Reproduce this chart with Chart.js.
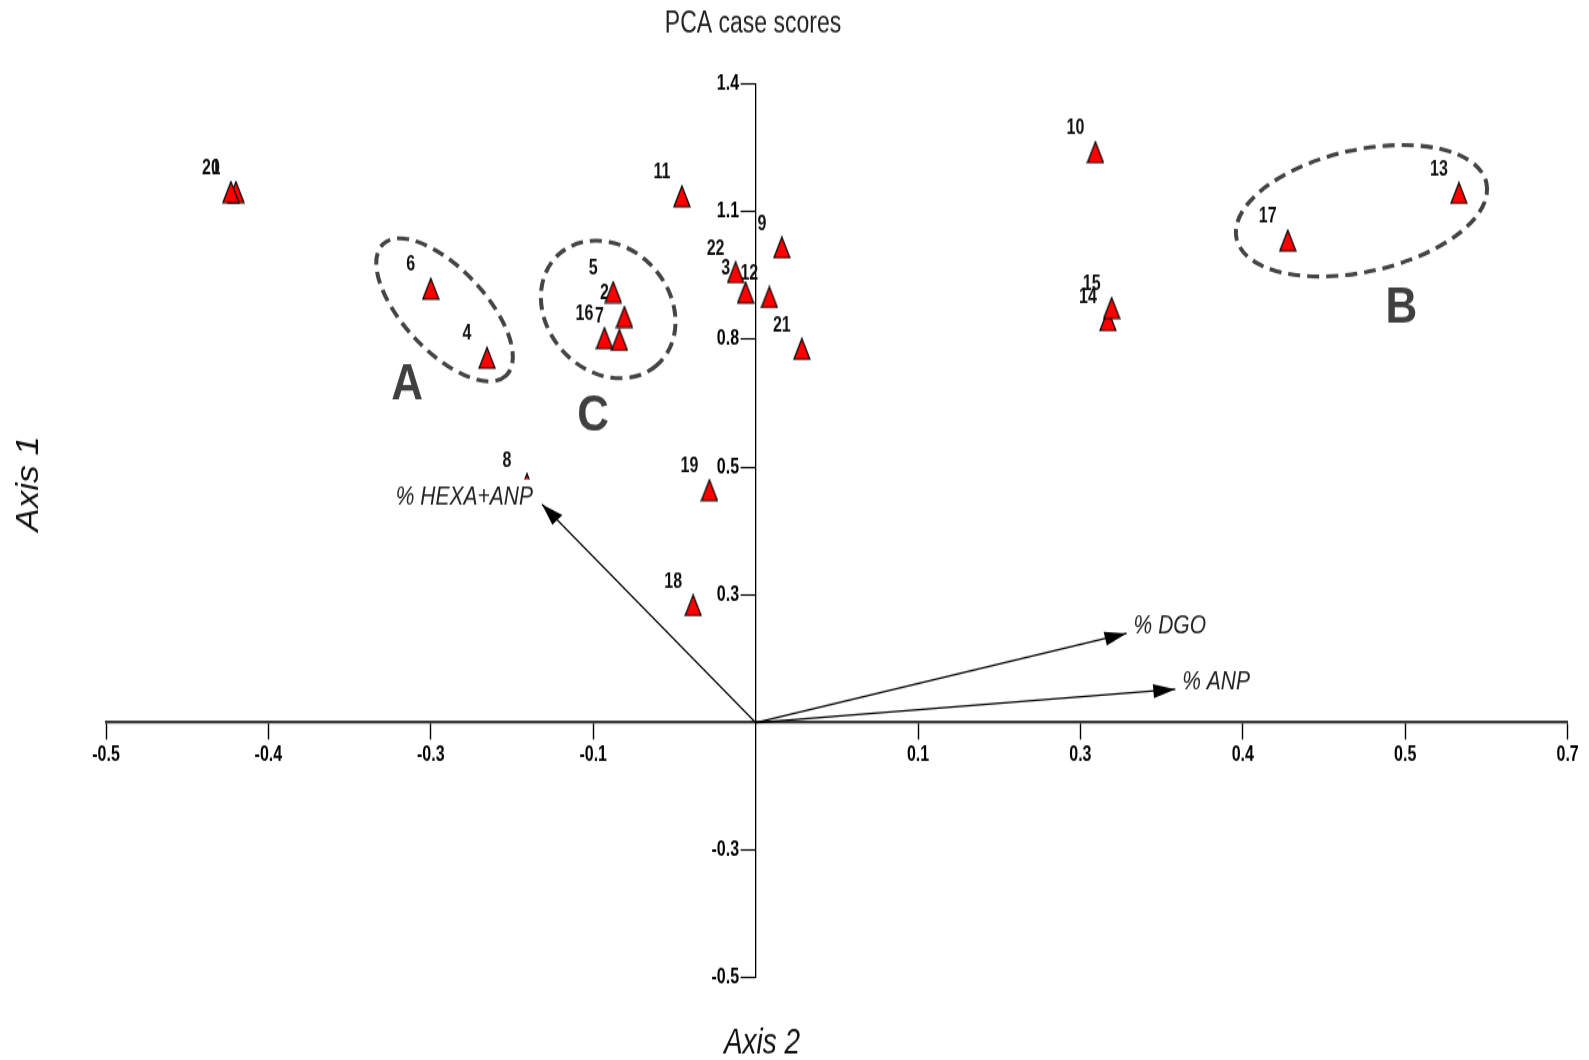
<!DOCTYPE html>
<html>
<head>
<meta charset="utf-8">
<title>PCA case scores</title>
<script src="https://cdn.jsdelivr.net/npm/chart.js@4.4.0/dist/chart.umd.min.js"></script>
<style>
  html, body { margin: 0; padding: 0; background: #fff; overflow: hidden; }
</style>
</head>
<body>
<canvas id="chart" width="1589" height="815" style="display:block;width:1589px;height:1060px"></canvas>
<script>
// case scores: Axis 2 is horizontal, Axis 1 vertical
const caseIds = ['1', '2', '3', '4', '5', '6', '7', '8', '9', '10', '11',
  '12', '13', '14', '15', '16', '17', '18', '19', '20', '21', '22'];
const axis2Scores = [-0.416, -0.105, -0.008, -0.215, -0.114, -0.260, -0.109, -0.183, 0.021, 0.272, -0.059,
  0.011, 0.563, 0.282, 0.285, -0.121, 0.426, -0.050, -0.037, -0.420, 0.037, -0.016];
const axis1Scores = [1.130, 0.864, 0.916, 0.777, 0.917, 0.924, 0.815, 0.508, 1.012, 1.215, 1.121,
  0.906, 1.128, 0.857, 0.883, 0.819, 1.027, 0.250, 0.495, 1.130, 0.796, 0.959];

// variable vectors
const variableNames = ['% HEXA+ANP', '% DGO', '% ANP'];
const variableAxis2 = [-0.171, 0.297, 0.336];
const variableAxis1 = [0.465, 0.190, 0.071];

// the program rounds its tick labels, the steps are 0.13 and 0.272
const xTickValues = [-0.52, -0.39, -0.26, -0.13, 0.13, 0.26, 0.39, 0.52, 0.65];
const xTickLabels = ['-0.5', '-0.4', '-0.3', '-0.1', '0.1', '0.3', '0.4', '0.5', '0.7'];
const yTickValues = [-0.544, -0.272, 0.272, 0.544, 0.816, 1.088, 1.36];
const yTickLabels = ['-0.5', '-0.3', '0.3', '0.5', '0.8', '1.1', '1.4'];

// groups circled by hand on the figure
const groupNames = ['A', 'B', 'C'];
const groupAxis2 = [-0.249, 0.485, -0.118];
const groupAxis1 = [0.879, 1.090, 0.880];
const groupLetterAxis2 = [-0.279, 0.517, -0.130];
const groupLetterAxis1 = [0.727, 0.891, 0.662];

// the picture is stretched vertically, so draw at 815 high and let css stretch it
const STRETCH = 1060 / 815;
const FONT = '"Liberation Sans", Arial, sans-serif';
Chart.defaults.font.family = FONT;

const groupShapes = [
  { rx: 90, ry: 41, rot: 47 },
  { rx: 128, ry: 61, rot: -12.6 },
  { rx: 74, ry: 61.6, rot: 48.5 }
];

function makeTriangle() {
  const c = document.createElement('canvas');
  c.width = 18;
  c.height = 18;
  const g = c.getContext('2d');
  g.beginPath();
  g.moveTo(9, 1);
  g.lineTo(17, 17);
  g.lineTo(1, 17);
  g.closePath();
  g.fillStyle = '#ff0000';
  g.fill();
  g.lineWidth = 1.2;
  g.strokeStyle = '#000';
  g.stroke();
  return c;
}

// put both axes through the origin (labels are clipped to the scale box, keep it wide)
const moveAxes = {
  id: 'moveAxes',
  afterLayout(chart) {
    const { x, y } = chart.scales;
    const x0 = x.getPixelForValue(0);
    const y0 = y.getPixelForValue(0);
    x.top = y0;
    x.bottom = y0 + 80;
    y.left = x0 - 120;
    y.right = x0;
  }
};

const caseLabels = {
  id: 'caseLabels',
  beforeDatasetsDraw(chart) {
    const ctx = chart.ctx;
    const meta = chart.getDatasetMeta(0);
    ctx.save();
    ctx.font = 'bold 16px ' + FONT;
    ctx.fillStyle = '#111';
    ctx.textAlign = 'center';
    ctx.textBaseline = 'middle';
    meta.data.forEach((pt, i) => {
      ctx.fillText(caseIds[i], pt.x - 20, pt.y - 18);
    });
    ctx.restore();
  }
};

const overlay = {
  id: 'overlay',
  afterDatasetsDraw(chart) {
    const ctx = chart.ctx;
    const { x: xs, y: ys } = chart.scales;

    // arrow heads and variable names
    variableNames.forEach((name, k) => {
      const meta = chart.getDatasetMeta(k + 1);
      const p0 = meta.data[0];
      const p1 = meta.data[1];
      ctx.save();
      ctx.scale(1, 1 / STRETCH);
      const ang = Math.atan2((p1.y - p0.y) * STRETCH, p1.x - p0.x);
      ctx.translate(p1.x, p1.y * STRETCH);
      ctx.rotate(ang);
      ctx.beginPath();
      ctx.moveTo(0, 0);
      ctx.lineTo(-22, -7);
      ctx.lineTo(-22, 7);
      ctx.closePath();
      ctx.fillStyle = '#000';
      ctx.fill();
      ctx.restore();

      ctx.save();
      ctx.font = 'italic 21px ' + FONT;
      const w = ctx.measureText(name).width;
      const left = p1.x < p0.x;
      const tx = left ? p1.x - 9 - w : p1.x + 7;
      const ty = p1.y + 0.5;
      ctx.fillStyle = '#fff';
      ctx.fillRect(tx - 3, ty - 19.6, w + 7, 24);
      ctx.fillStyle = '#222';
      ctx.textAlign = 'left';
      ctx.textBaseline = 'alphabetic';
      ctx.fillText(name, tx, ty);
      ctx.restore();
    });

    // dashed rings and letters
    groupNames.forEach((g, i) => {
      const sh = groupShapes[i];
      ctx.save();
      ctx.scale(1, 1 / STRETCH);
      const cx = xs.getPixelForValue(groupAxis2[i]);
      const cy = ys.getPixelForValue(groupAxis1[i]) * STRETCH;
      ctx.beginPath();
      ctx.ellipse(cx, cy, sh.rx, sh.ry, sh.rot * Math.PI / 180, 0, Math.PI * 2);
      ctx.setLineDash([12, 7]);
      ctx.lineWidth = 4;
      ctx.strokeStyle = '#444';
      ctx.stroke();
      ctx.setLineDash([]);

      const lx = xs.getPixelForValue(groupLetterAxis2[i]);
      const ly = ys.getPixelForValue(groupLetterAxis1[i]) * STRETCH;
      ctx.translate(lx, ly);
      ctx.scale(1, 1.15);
      ctx.font = 'bold 44px ' + FONT;
      ctx.fillStyle = '#404040';
      ctx.textAlign = 'center';
      ctx.textBaseline = 'alphabetic';
      ctx.fillText(g, 0, 0.358 * 44);
      ctx.restore();
    });
  },
  afterDraw(chart) {
    const ctx = chart.ctx;
    ctx.save();
    ctx.fillStyle = '#222';
    ctx.textAlign = 'center';
    ctx.textBaseline = 'alphabetic';
    ctx.font = '23px ' + FONT;
    ctx.fillText('PCA case scores', 753, 17 + 0.358 * 23);

    ctx.fillStyle = '#111';
    ctx.font = 'italic 28px ' + FONT;
    ctx.fillText('Axis 2', 762, 800.4 + 0.358 * 28);

    ctx.translate(26, 372);
    ctx.scale(1.19, 1);
    ctx.rotate(-Math.PI / 2);
    ctx.font = 'italic 27px ' + FONT;
    ctx.fillText('Axis 1', 0, 0.358 * 27);
    ctx.restore();
  }
};

const casePoints = caseIds.map((id, i) => ({ x: axis2Scores[i], y: axis1Scores[i] }));
const vectorSets = variableNames.map((name, k) => ({
  label: name,
  data: [{ x: 0, y: 0 }, { x: variableAxis2[k], y: variableAxis1[k] }],
  showLine: true,
  pointRadius: 0,
  borderColor: '#000',
  borderWidth: 1.3,
  clip: false
}));

const tickFont = { family: FONT, size: 16, weight: 'bold' };

new Chart(document.getElementById('chart'), {
  type: 'scatter',
  data: {
    datasets: [{
      label: 'cases',
      data: casePoints,
      pointStyle: makeTriangle(),
      pointRadius: 9,
      clip: false
    }].concat(vectorSets)
  },
  options: {
    responsive: false,
    animation: false,
    events: [],
    layout: { padding: { left: 106, right: 21.4, top: 64.6, bottom: 63.05 } },
    plugins: {
      legend: { display: false },
      tooltip: { enabled: false },
      title: { display: false }
    },
    scales: {
      x: {
        type: 'linear',
        position: 'bottom',
        min: -0.52,
        max: 0.65,
        afterBuildTicks: s => { s.ticks = xTickValues.map(v => ({ value: v })); },
        afterFit: s => { s.height = 0; },
        grid: { drawOnChartArea: false, drawTicks: true, tickLength: 13, tickWidth: 1.4, tickColor: '#000' },
        border: { display: true, color: '#3a3a3a', width: 2.2 },
        ticks: {
          autoSkip: false,
          maxRotation: 0,
          padding: 2.2,
          color: '#000',
          font: tickFont,
          callback: (v, i) => xTickLabels[i]
        }
      },
      y: {
        type: 'linear',
        position: 'left',
        min: -0.544,
        max: 1.36,
        afterBuildTicks: s => { s.ticks = yTickValues.map(v => ({ value: v })); },
        afterFit: s => { s.width = 0; },
        grid: { drawOnChartArea: false, drawTicks: true, tickLength: 15, tickWidth: 1.2, tickColor: '#000' },
        border: { display: true, color: '#000', width: 1.3 },
        ticks: {
          autoSkip: false,
          padding: 1.5,
          color: '#000',
          font: tickFont,
          callback: (v, i) => yTickLabels[i]
        }
      }
    }
  },
  plugins: [moveAxes, caseLabels, overlay]
});
</script>
</body>
</html>
